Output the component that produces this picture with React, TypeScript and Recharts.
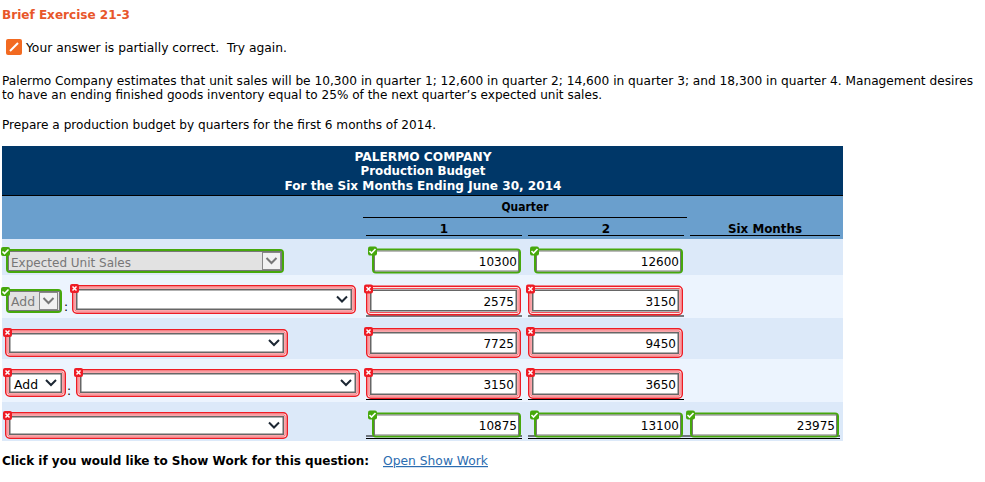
import { ComposedChart, Scatter, XAxis, YAxis } from "recharts"

// table values
const columns = ["1", "2", "Six Months"]
const rowIds = ["sales", "add", "required", "begin", "units"]
const quarter1 = [10300, 2575, 7725, 3150, 10875]
const quarter2 = [12600, 3150, 9450, 3650, 13100]
const quarter1Ok = [true, false, false, false, true]
const quarter2Ok = [true, false, false, false, true]
const sixMonthsTotal = 23975

const cells = [
  ...rowIds.map((row, i) => ({ col: columns[0], row, value: quarter1[i], ok: quarter1Ok[i] })),
  ...rowIds.map((row, i) => ({ col: columns[1], row, value: quarter2[i], ok: quarter2Ok[i] })),
  { col: columns[2], row: rowIds[4], value: sixMonthsTotal, ok: true },
]

const FONT = "'DejaVu Sans', Verdana, sans-serif"
const RED = "#ee1c25"
const GREEN = "#46a80c"

const rowBands = [
  [239, 36, "#dce9f9"],
  [275, 43, "#ecf4fe"],
  [318, 41, "#dce9f9"],
  [359, 43, "#ecf4fe"],
  [402, 39, "#dce9f9"],
] as const

function Txt({ x, y, w, size = 12, bold, fill = "#000", anchor, children, underline }: any) {
  return (
    <text
      x={x}
      y={y}
      fontFamily={FONT}
      fontSize={size}
      fontWeight={bold ? 700 : 400}
      fill={fill}
      textAnchor={anchor}
      textLength={w}
      lengthAdjust={w ? "spacingAndGlyphs" : undefined}
      textDecoration={underline ? "underline" : undefined}
    >
      {children}
    </text>
  )
}

function Badge({ x, y, ok }: { x: number; y: number; ok: boolean }) {
  return (
    <g>
      <rect x={x} y={y} width={9} height={9} rx={2} fill={ok ? GREEN : RED} />
      {ok ? (
        <path d={`M${x + 1.5} ${y + 4.5}l2 2l4-4`} fill="none" stroke="#fff" strokeWidth={1.6} />
      ) : (
        <path d={`M${x + 2.5} ${y + 2.5}l4 4m0-4l-4 4`} fill="none" stroke="#fff" strokeWidth={1.5} />
      )}
    </g>
  )
}

function Chevron({ x, y, color = "#1c2733" }: { x: number; y: number; color?: string }) {
  return <path d={`M${x - 5} ${y - 3}l5 5l5-5`} fill="none" stroke={color} strokeWidth={2} />
}

// red "wrong answer" frame: outer red line, pale gap, thin red line, grey inner border
function RedBox({ x, y, w, h }: { x: number; y: number; w: number; h: number }) {
  return (
    <g>
      <rect x={x + 0.75} y={y + 0.75} width={w - 1.5} height={h - 1.5} rx={4} fill="#fde6e6" stroke={RED} strokeWidth={1.5} />
      <rect x={x + 3} y={y + 3} width={w - 6} height={h - 6} rx={1} fill="#fff" stroke="#f4505a" strokeWidth={1} />
      <rect x={x + 4.75} y={y + 4.75} width={w - 9.5} height={h - 9.5} fill="#fff" stroke="#666" strokeWidth={1.5} />
    </g>
  )
}

function GreenBox({ x, y, w, h, fill = "#fff" }: { x: number; y: number; w: number; h: number; fill?: string }) {
  return (
    <g>
      <rect x={x + 1} y={y + 1} width={w - 2} height={h - 2} rx={3} fill={fill} stroke={GREEN} strokeWidth={2} />
      <rect x={x + 2.5} y={y + 2.5} width={w - 5} height={h - 5} fill="none" stroke="#777" strokeWidth={1} />
    </g>
  )
}

function EmptySelect({ x, y, w, h }: { x: number; y: number; w: number; h: number }) {
  return (
    <g>
      <RedBox x={x} y={y} w={w} h={h} />
      <Chevron x={x + w - 14} y={y + h / 2} />
      <Badge x={x - 2} y={y - 1} ok={false} />
    </g>
  )
}

// small nudges because the rows and columns of the form are not perfectly even
const rowNudge: Record<string, number> = { add: -1.5 }
const rightEdge: Record<string, number> = { "1": 78, "2": 80, "Six Months": 76 }

function InputCell({ cx, cy, payload }: any) {
  const right = cx + rightEdge[payload.col]
  const mid = cy + (rowNudge[payload.row] || 0)
  const underline = payload.row === "add" || payload.row === "begin"
  const doubleLine = payload.row === "units"
  if (payload.ok) {
    const top = mid - 12.5
    const left = right - 149
    return (
      <g>
        {doubleLine && (
          <path d={`M${left - 6} ${top + 23.5}H${right + 1}M${left - 6} ${top + 26}H${right + 1}`} stroke="#000" strokeWidth={1} />
        )}
        <GreenBox x={left} y={top} w={149} h={25} />
        <Badge x={left - 4} y={top - 2} ok />
        <Txt x={right - 4} y={mid + 5} anchor="end">{payload.value}</Txt>
      </g>
    )
  }
  const top = mid - 15
  const left = right - 155
  return (
    <g>
      {underline && <path d={`M${left} ${top + 30.5}H${right + 1}`} stroke="#000" strokeWidth={1} />}
      <RedBox x={left} y={top} w={155} h={30} />
      <Badge x={left - 2} y={top - 1} ok={false} />
      <Txt x={right - 7} y={mid + 5} anchor="end">{payload.value}</Txt>
    </g>
  )
}

export default function App() {
  return (
    <div style={{ position: "absolute", left: 0, top: 0, width: 985, height: 482, background: "#fff" }}>
      <ComposedChart width={985} height={482} data={cells} margin={{ top: 0, right: 0, bottom: 0, left: 0 }}>
        <XAxis
          dataKey="col"
          type="category"
          scale="band"
          allowDuplicatedCategory={false}
          hide
          padding={{ left: 363, right: 142 }}
        />
        <YAxis
          dataKey="row"
          type="category"
          scale="band"
          allowDuplicatedCategory={false}
          reversed
          hide
          padding={{ top: 240.5, bottom: 36.5 }}
        />

        <Txt x={2} y={19} w={128} bold fill="#e8562a">Brief Exercise 21-3</Txt>
        <rect x={6} y={39} width={16} height={16} rx={2} fill="#f26a21" />
        <path d="M10 51L18 43" stroke="#fff" strokeWidth={2} />
        <Txt x={26} y={52} w={261}>Your answer is partially correct.{"\u00a0 "}Try again.</Txt>
        <Txt x={2} y={85} w={971}>Palermo Company estimates that unit sales will be 10,300 in quarter 1; 12,600 in quarter 2; 14,600 in quarter 3; and 18,300 in quarter 4. Management desires</Txt>
        <Txt x={2} y={99} w={600}>to have an ending finished goods inventory equal to 25% of the next quarter’s expected unit sales.</Txt>
        <Txt x={2} y={129} w={434}>Prepare a production budget by quarters for the first 6 months of 2014.</Txt>

        <rect x={2} y={146} width={841} height={50} fill="#003768" />
        <rect x={2} y={196} width={841} height={43} fill="#6a9fcd" />
        <path d="M2 195.5H843" stroke="#000" strokeWidth={1} />
        <Txt x={423} y={161} w={137} bold fill="#fff" anchor="middle">PALERMO COMPANY</Txt>
        <Txt x={423} y={175} w={125} bold fill="#fff" anchor="middle">Production Budget</Txt>
        <Txt x={423} y={190} w={277} bold fill="#fff" anchor="middle">For the Six Months Ending June 30, 2014</Txt>
        <Txt x={525} y={211} w={47} bold anchor="middle">Quarter</Txt>
        <path d="M363 217.5H687M366 235.5H522M528 235.5H684M690 235.5H840" stroke="#000" strokeWidth={1} />
        <Txt x={444} y={233} bold anchor="middle">{columns[0]}</Txt>
        <Txt x={606} y={233} bold anchor="middle">{columns[1]}</Txt>
        <Txt x={765} y={233} w={74} bold anchor="middle">{columns[2]}</Txt>

        {rowBands.map(([y, h, c]) => (
          <rect key={y} x={2} y={y} width={841} height={h} fill={c} />
        ))}

        <GreenBox x={6} y={249} w={278} h={24} fill="#e2e2e2" />
        <Txt x={11} y={267} w={120} fill="#777">Expected Unit Sales</Txt>
        <rect x={262.5} y={252.5} width={18} height={17} fill="#f2f2f2" stroke="#888" />
        <Chevron x={271.5} y={261} color="#777" />
        <Badge x={1} y={247} ok />

        <GreenBox x={6} y={289} w={56} h={24} fill="#e2e2e2" />
        <Txt x={11} y={306} w={24} fill="#777">Add</Txt>
        <rect x={39.5} y={292.5} width={18} height={17} fill="#f2f2f2" stroke="#888" />
        <Chevron x={48.5} y={301} color="#777" />
        <Badge x={1} y={287} ok />
        <Txt x={64} y={311}>:</Txt>
        <EmptySelect x={72} y={285} w={284} h={29} />

        <EmptySelect x={5} y={329} w={283} h={28} />

        <RedBox x={5} y={369} w={61} h={28} />
        <Txt x={14} y={389} w={24}>Add</Txt>
        <Chevron x={51} y={383} />
        <Badge x={3} y={368} ok={false} />
        <Txt x={67} y={395}>:</Txt>
        <EmptySelect x={76} y={369} w={284} h={28} />

        <EmptySelect x={5} y={412} w={283} h={27} />

        <Txt x={2} y={465} w={367} bold>Click if you would like to Show Work for this question:</Txt>
        <Txt x={383} y={465} w={105} fill="#2b6cb0" underline>Open Show Work</Txt>

        <Scatter data={cells} dataKey="value" shape={InputCell} isAnimationActive={false} />
      </ComposedChart>
    </div>
  )
}
